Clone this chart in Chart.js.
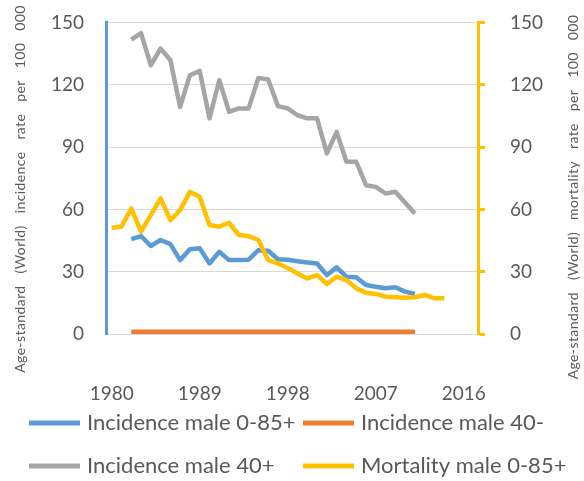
<!DOCTYPE html>
<html>
<head>
<meta charset="utf-8">
<script src="https://cdn.jsdelivr.net/npm/chart.js@4"></script>
<style>
  html, body { margin: 0; padding: 0; background: #fff; }
</style>
</head>
<body>
<canvas id="chart" width="584" height="481"></canvas>
<script>
// years
const mortalityYears = [1980, 1981, 1982, 1983, 1984, 1985, 1986, 1987, 1988, 1989,
  1990, 1991, 1992, 1993, 1994, 1995, 1996, 1997, 1998, 1999,
  2000, 2001, 2002, 2003, 2004, 2005, 2006, 2007, 2008, 2009,
  2010, 2011, 2012, 2013, 2014];
const incidenceYears = [1982, 1983, 1984, 1985, 1986, 1987, 1988, 1989, 1990, 1991,
  1992, 1993, 1994, 1995, 1996, 1997, 1998, 1999, 2000, 2001,
  2002, 2003, 2004, 2005, 2006, 2007, 2008, 2009, 2010, 2011];

// series values (rate per 100 000)
const incidenceAll = [45.7, 47.2, 42.4, 45.3, 43.3, 35.6, 40.8, 41.3, 34.0, 39.6,
  35.6, 35.6, 35.8, 40.4, 40.1, 36.0, 35.8, 35.1, 34.5, 34.0,
  28.4, 32.1, 27.6, 27.3, 23.6, 22.8, 22.0, 22.5, 20.4, 19.3];
const incidenceUnder40 = [1.1, 1.1, 1.1, 1.1, 1.1, 1.1, 1.1, 1.1, 1.1, 1.1,
  1.1, 1.1, 1.1, 1.1, 1.1, 1.1, 1.1, 1.1, 1.1, 1.1,
  1.1, 1.1, 1.1, 1.1, 1.1, 1.1, 1.1, 1.1, 1.1, 1.1];
const incidenceOver40 = [141.9, 145.0, 129.5, 137.5, 132.0, 109.4, 124.7, 126.8, 103.9, 122.3,
  107.0, 108.7, 108.7, 123.4, 122.6, 109.8, 108.7, 105.4, 103.9, 103.9,
  87.0, 97.4, 83.0, 83.0, 71.7, 70.9, 67.7, 68.5, 63.3, 58.1];
const mortalityAll = [51.2, 51.7, 60.5, 49.3, 57.3, 65.3, 54.9, 59.7, 68.5, 66.1,
  52.5, 51.7, 53.6, 47.7, 47.2, 45.3, 35.6, 34.0, 31.8, 29.2,
  26.8, 28.4, 24.1, 27.6, 26.0, 22.0, 19.9, 19.3, 18.0, 17.7,
  17.5, 17.7, 18.8, 17.2, 17.2];

const seriesLabels = ['Incidence male 0-85+', 'Incidence male 40-', 'Incidence male 40+', 'Mortality male 0-85+'];
const tickYears = [1980, 1989, 1998, 2007, 2016];
const leftTitle = 'Age-standard   (World)   incidence   rate   per   100   000';
const rightTitle = 'Age-standard   (World)   mortality   rate   per   100   000';

const font = 'Lato, "Open Sans", sans-serif';
const textColor = '#595959';

function pairs(xs, ys) {
  return ys.map((y, i) => ({ x: xs[i], y: y }));
}

function lineSet(label, xs, ys, color, axis, order) {
  return {
    label: label,
    data: pairs(xs, ys),
    borderColor: color,
    backgroundColor: color,
    borderWidth: 4.5,
    pointRadius: 0,
    tension: 0,
    borderJoinStyle: 'round',
    yAxisID: axis,
    order: order
  };
}

// fixed width for the side axes, and no extra top/bottom padding from the tick padding
function sideFit(scale) {
  scale.width = 106;
  scale.paddingTop = 0;
  scale.paddingBottom = 0;
}

// legend in a 2x2 grid, plus the two rotated axis titles
const extras = {
  id: 'extras',
  afterDraw(chart) {
    const ctx = chart.ctx;
    const cols = [29, 303];
    const rows = [423, 466];
    ctx.save();
    ctx.font = '22px ' + font;
    ctx.textBaseline = 'middle';
    chart.data.datasets.forEach((ds, i) => {
      const x = cols[i % 2];
      const y = rows[Math.floor(i / 2)];
      ctx.fillStyle = ds.borderColor;
      ctx.fillRect(x, y - 2.5, 51, 5);
      ctx.fillStyle = textColor;
      ctx.fillText(ds.label, x + 58, y);
    });

    ctx.font = '14px ' + font;
    ctx.letterSpacing = '0.4px';
    ctx.textAlign = 'center';
    ctx.fillStyle = textColor;
    [[20, 189, leftTitle], [573, 197, rightTitle]].forEach(([x, y, t]) => {
      ctx.save();
      ctx.translate(x, y);
      ctx.rotate(-Math.PI / 2);
      ctx.fillText(t, 0, 0);
      ctx.restore();
    });
    ctx.restore();
  }
};

new Chart(document.getElementById('chart'), {
  type: 'line',
  data: {
    datasets: [
      lineSet(seriesLabels[0], incidenceYears, incidenceAll, '#5B9BD5', 'y', 4),
      lineSet(seriesLabels[1], incidenceYears, incidenceUnder40, '#ED7D31', 'y', 3),
      lineSet(seriesLabels[2], incidenceYears, incidenceOver40, '#A5A5A5', 'y', 2),
      lineSet(seriesLabels[3], mortalityYears, mortalityAll, '#FFC000', 'y2', 1)
    ]
  },
  plugins: [extras],
  options: {
    responsive: false,
    animation: false,
    layout: { padding: { top: 22.7, left: 0, right: 0, bottom: 0 } },
    plugins: {
      legend: { display: false },
      tooltip: { enabled: false }
    },
    scales: {
      x: {
        type: 'linear',
        min: 1979.42,
        max: 2017.45,
        afterBuildTicks: (scale) => { scale.ticks = tickYears.map(v => ({ value: v })); },
        afterFit: (scale) => { scale.height = 147; },
        grid: { display: false },
        border: { display: false },
        ticks: {
          autoSkip: false,
          maxRotation: 0,
          padding: 40,
          color: textColor,
          font: { family: font, size: 19 },
          callback: (v) => String(v)
        }
      },
      y: {
        position: 'left',
        min: 0,
        max: 150,
        afterFit: sideFit,
        grid: { color: '#D9D9D9', lineWidth: 1, drawTicks: false },
        border: { color: '#5B9BD5', width: 3 },
        ticks: {
          stepSize: 30,
          padding: 22,
          color: textColor,
          font: { family: font, size: 19 }
        }
      },
      y2: {
        position: 'right',
        min: 0,
        max: 150,
        afterFit: sideFit,
        grid: { drawOnChartArea: false, drawTicks: true, tickLength: 7, tickColor: '#FFC000', tickWidth: 3 },
        border: { color: '#FFC000', width: 3 },
        ticks: {
          stepSize: 30,
          padding: 25,
          color: textColor,
          font: { family: font, size: 19 }
        }
      }
    }
  }
});
</script>
</body>
</html>
